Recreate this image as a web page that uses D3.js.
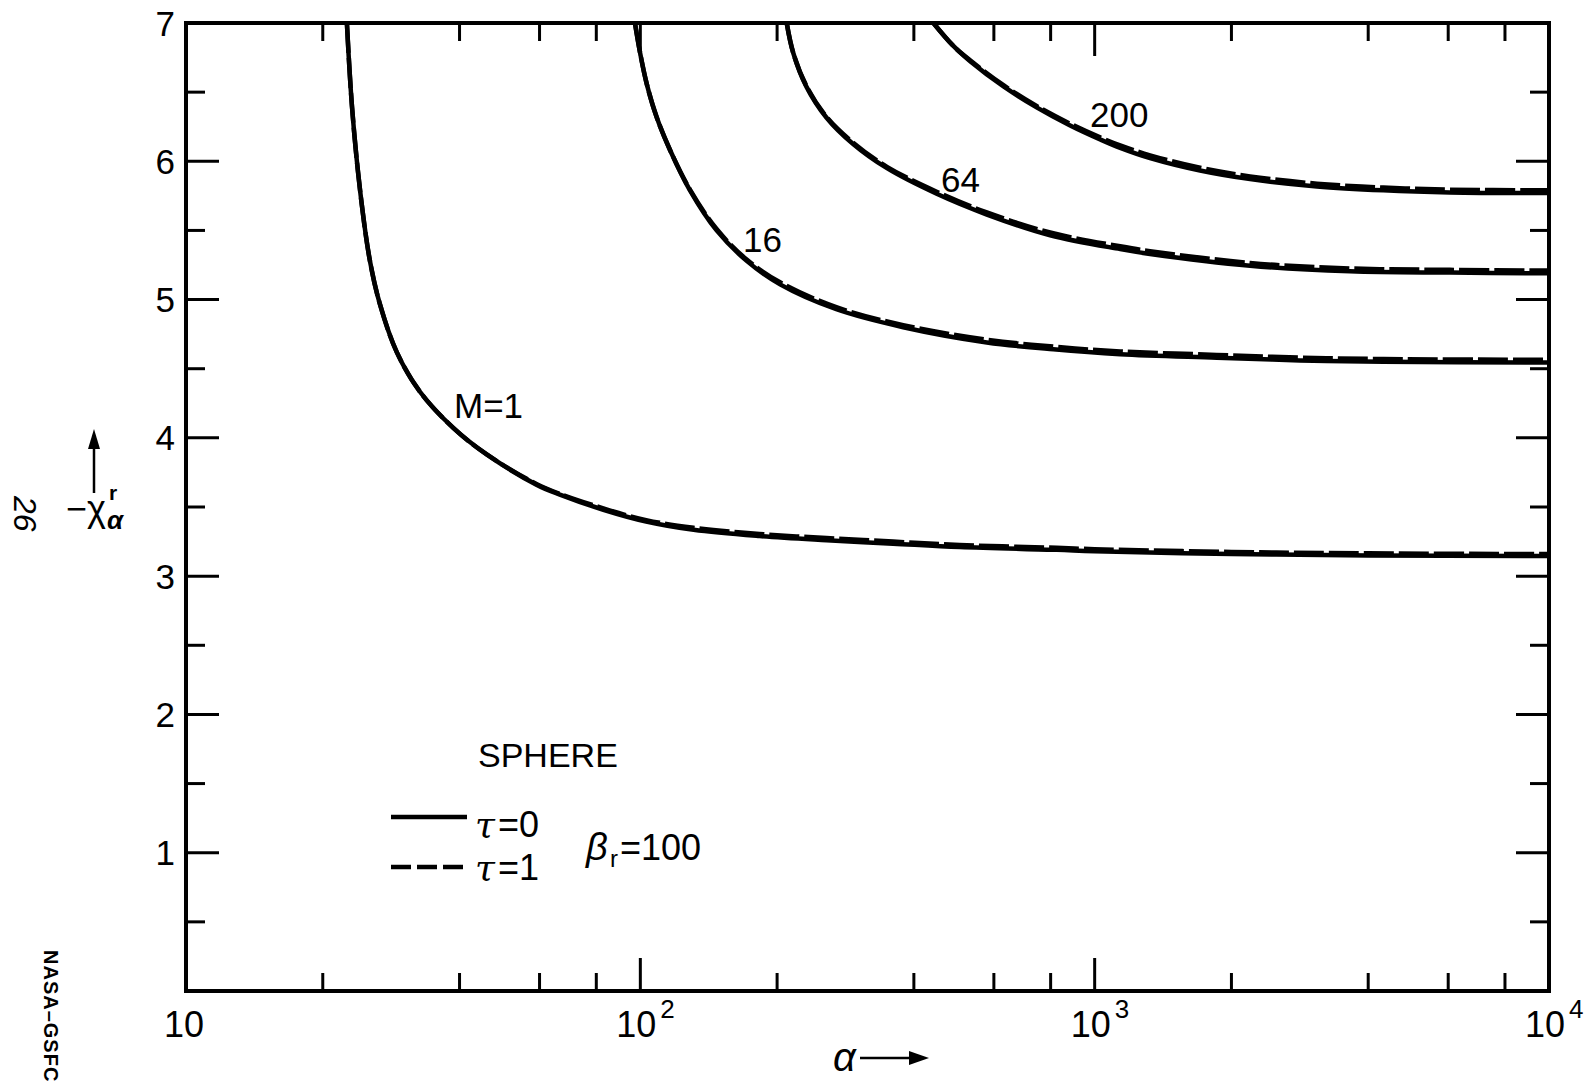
<!DOCTYPE html>
<html>
<head>
<meta charset="utf-8">
<script src="https://cdn.jsdelivr.net/npm/d3@7/dist/d3.min.js"></script>
<style>
  body { margin: 0; background: #fff; }
  text { font-family: "Liberation Sans", Arial, sans-serif; fill: #000; }
</style>
</head>
<body>
<script>
// values (alpha on log axis, -chi on linear axis)
const alphaM1 = [22.6, 23.2, 24.2, 25.4, 26.7, 29.1, 32.7, 38.8, 45.9, 59.2, 66.5, 82.9, 103, 131, 183, 257, 360, 505, 825, 1000, 2000, 4000, 10000]
const chiM1Tau0 = [7.0, 6.39, 5.77, 5.28, 4.97, 4.62, 4.335, 4.07, 3.88, 3.66, 3.59, 3.48, 3.395, 3.335, 3.29, 3.26, 3.235, 3.21, 3.19, 3.18, 3.16, 3.15, 3.145]
const chiM1Tau1 = [7.0, 6.39, 5.77, 5.28, 4.97, 4.62, 4.335, 4.07, 3.88, 3.665, 3.595, 3.49, 3.405, 3.35, 3.305, 3.275, 3.25, 3.225, 3.205, 3.195, 3.175, 3.165, 3.16]

const alphaM16 = [97.3, 99.8, 103.3, 108.6, 116.3, 128.6, 147.2, 171.4, 203, 270, 379, 579, 811, 1138, 1857, 2831, 4320, 10000]
const chiM16Tau0 = [7.0, 6.79, 6.56, 6.32, 6.08, 5.79, 5.50, 5.28, 5.11, 4.93, 4.80, 4.69, 4.64, 4.605, 4.58, 4.56, 4.55, 4.545]
const chiM16Tau1 = [7.0, 6.79, 6.56, 6.32, 6.08, 5.795, 5.51, 5.29, 5.125, 4.945, 4.815, 4.71, 4.66, 4.625, 4.60, 4.58, 4.57, 4.565]

const alphaM64 = [210, 217, 232, 257, 294, 349, 449, 579, 798, 1138, 1324, 2198, 3648, 6052, 10000]
const chiM64Tau0 = [7.0, 6.785, 6.54, 6.315, 6.125, 5.95, 5.765, 5.615, 5.465, 5.365, 5.33, 5.245, 5.205, 5.195, 5.19]
const chiM64Tau1 = [7.0, 6.785, 6.545, 6.32, 6.135, 5.96, 5.78, 5.63, 5.485, 5.385, 5.35, 5.265, 5.225, 5.215, 5.21]

const alphaM200 = [441.6, 488, 532, 630, 745, 883, 1028, 1138, 1324, 1706, 2198, 3085, 4320, 6052, 10000]
const chiM200Tau0 = [7.0, 6.836, 6.724, 6.541, 6.39, 6.259, 6.158, 6.097, 6.023, 5.933, 5.871, 5.818, 5.79, 5.775, 5.77]
const chiM200Tau1 = [7.0, 6.836, 6.73, 6.55, 6.40, 6.272, 6.173, 6.115, 6.043, 5.953, 5.891, 5.838, 5.81, 5.795, 5.79]

const curveNames = ['M=1', '16', '64', '200']
const yTickValues = [1, 2, 3, 4, 5, 6, 7]
const yMinorValues = [0.5, 1.5, 2.5, 3.5, 4.5, 5.5, 6.5]
const xMajorValues = [100, 1000]
const xMinorValues = [20, 40, 60, 80, 200, 400, 600, 800, 2000, 4000, 6000, 8000]
const xExponents = [2, 3, 4]

const W = 1590, H = 1089
const x = d3.scaleLog().domain([10, 10000]).range([186, 1549])
const y = d3.scaleLinear().domain([0, 7]).range([991, 23])

const svg = d3.select('body').append('svg')
  .attr('width', W).attr('height', H)

svg.append('defs').append('clipPath').attr('id', 'plot')
  .append('rect')
  .attr('x', x(10)).attr('y', y(7))
  .attr('width', x(10000) - x(10)).attr('height', y(0) - y(7))

// curves
const series = [
  {a: alphaM1, t0: chiM1Tau0, t1: chiM1Tau1},
  {a: alphaM16, t0: chiM16Tau0, t1: chiM16Tau1},
  {a: alphaM64, t0: chiM64Tau0, t1: chiM64Tau1},
  {a: alphaM200, t0: chiM200Tau0, t1: chiM200Tau1}
]
const line = d3.line()
  .x(d => x(d[0]))
  .y(d => y(d[1]))
  .curve(d3.curveCatmullRom.alpha(0.5))

const curves = svg.append('g').attr('clip-path', 'url(#plot)')
series.forEach(s => {
  curves.append('path')
    .attr('d', line(s.a.map((v, i) => [v, s.t1[i]])))
    .attr('fill', 'none').attr('stroke', '#000')
    .attr('stroke-width', 4.5)
    .attr('stroke-dasharray', '30,5')
  curves.append('path')
    .attr('d', line(s.a.map((v, i) => [v, s.t0[i]])))
    .attr('fill', 'none').attr('stroke', '#000')
    .attr('stroke-width', 4.5)
})

// frame
svg.append('rect')
  .attr('x', x(10)).attr('y', y(7))
  .attr('width', x(10000) - x(10)).attr('height', y(0) - y(7))
  .attr('fill', 'none').attr('stroke', '#000').attr('stroke-width', 4)

// ticks on all four sides
const ticks = svg.append('g').attr('stroke', '#000').attr('stroke-width', 3)
const tickY = (vals, len) => {
  vals.forEach(v => {
    ticks.append('line').attr('x1', x(10)).attr('x2', x(10) + len).attr('y1', y(v)).attr('y2', y(v))
    ticks.append('line').attr('x1', x(10000)).attr('x2', x(10000) - len).attr('y1', y(v)).attr('y2', y(v))
  })
}
const tickX = (vals, len) => {
  vals.forEach(v => {
    ticks.append('line').attr('x1', x(v)).attr('x2', x(v)).attr('y1', y(0)).attr('y2', y(0) - len)
    ticks.append('line').attr('x1', x(v)).attr('x2', x(v)).attr('y1', y(7)).attr('y2', y(7) + len)
  })
}
tickY(yTickValues.filter(v => v < 7), 33)
tickY(yMinorValues, 19)
tickX(xMajorValues, 33)
tickX(xMinorValues, 18)

// y tick labels
svg.append('g').selectAll('text').data(yTickValues).join('text')
  .attr('x', 175).attr('y', d => y(d)).attr('dy', '0.36em')
  .attr('text-anchor', 'end').attr('font-size', 35)
  .text(d => d)

// x tick labels
svg.append('text').attr('x', x(10) - 2).attr('y', 1037)
  .attr('text-anchor', 'middle').attr('font-size', 36).text('10')
xExponents.forEach(e => {
  const px = x(Math.pow(10, e))
  svg.append('text').attr('x', px - 4).attr('y', 1037)
    .attr('text-anchor', 'middle').attr('font-size', 36).text('10')
  svg.append('text').attr('x', px + 20).attr('y', 1018)
    .attr('font-size', 26).text(e)
})

// curve labels
const labelPos = [[454, 418], [743, 252], [941, 192], [1090, 127]]
curveNames.forEach((n, i) => {
  svg.append('text').attr('x', labelPos[i][0]).attr('y', labelPos[i][1])
    .attr('font-size', 35).text(n)
})

// y axis label with arrow
svg.append('line').attr('x1', 94).attr('x2', 94).attr('y1', 493).attr('y2', 444)
  .attr('stroke', '#000').attr('stroke-width', 2.5)
svg.append('path').attr('d', 'M94,429 L88,449 L100,449 Z').attr('fill', '#000')
svg.append('text').attr('x', 66).attr('y', 521).attr('font-size', 36).text('−χ')
svg.append('text').attr('x', 109).attr('y', 500).attr('font-size', 21)
  .attr('font-weight', 'bold').text('r')
svg.append('text').attr('x', 107).attr('y', 529).attr('font-size', 26)
  .attr('font-style', 'italic').attr('font-weight', 'bold').text('α')

// x axis label with arrow
svg.append('text').attr('x', 833).attr('y', 1071).attr('font-size', 40)
  .attr('font-style', 'italic').text('α')
svg.append('line').attr('x1', 860).attr('x2', 914).attr('y1', 1058).attr('y2', 1058)
  .attr('stroke', '#000').attr('stroke-width', 2.5)
svg.append('path').attr('d', 'M929,1058 L909,1051 L909,1065 Z').attr('fill', '#000')

// legend
svg.append('text').attr('x', 478).attr('y', 767).attr('font-size', 34).text('SPHERE')
svg.append('line').attr('x1', 391).attr('x2', 467).attr('y1', 817).attr('y2', 817)
  .attr('stroke', '#000').attr('stroke-width', 4.5)
svg.append('line').attr('x1', 391).attr('x2', 467).attr('y1', 867).attr('y2', 867)
  .attr('stroke', '#000').attr('stroke-width', 4.5).attr('stroke-dasharray', '20,6')
svg.append('text').attr('x', 475).attr('y', 837).attr('font-size', 36)
  .html('<tspan font-family="DejaVu Serif" font-style="italic">τ</tspan><tspan dx="3">=0</tspan>')
svg.append('text').attr('x', 475).attr('y', 880).attr('font-size', 36)
  .html('<tspan font-family="DejaVu Serif" font-style="italic">τ</tspan><tspan dx="3">=1</tspan>')
svg.append('text').attr('x', 586).attr('y', 860).attr('font-size', 38)
  .attr('font-family', 'DejaVu Serif').attr('font-style', 'italic').text('β')
svg.append('text').attr('x', 610).attr('y', 867).attr('font-size', 24).text('r')
svg.append('text').attr('x', 620).attr('y', 860).attr('font-size', 36).text('=100')

// margin notes from the scanned page
svg.append('text').attr('transform', 'translate(44,950) rotate(90)')
  .attr('font-size', 20).attr('font-weight', 'bold').attr('letter-spacing', 1).text('NASA–GSFC')
svg.append('text').attr('transform', 'translate(14,496) rotate(90)')
  .attr('font-size', 32).attr('font-style', 'italic').attr('fill', '#222').text('26')
</script>
</body>
</html>
